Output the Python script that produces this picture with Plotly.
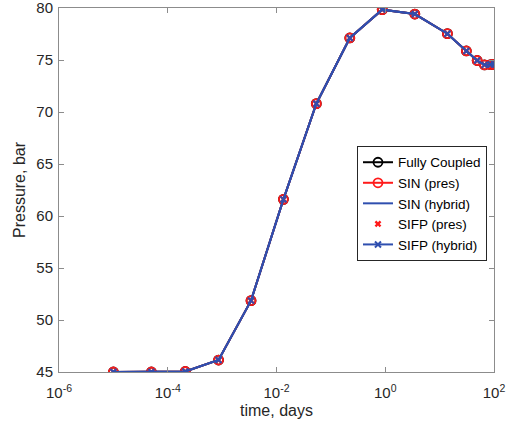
import plotly.graph_objects as go

time_days = [1e-5, 5e-5, 2.1e-4, 8.6e-4, 3.4e-3, 0.0134, 0.054, 0.223, 0.88, 3.5, 13.9, 31, 49, 67, 87, 100]
pressure = [45.0, 45.0, 45.05, 46.15, 51.86, 61.6, 70.8, 77.12, 79.84, 79.42, 77.53, 75.87, 74.95, 74.53, 74.56, 74.58]

series_names = ["Fully Coupled", "SIN (pres)", "SIN (hybrid)", "SIFP (pres)", "SIFP (hybrid)"]
xtick_vals = [1e-6, 1e-4, 1e-2, 1e0, 1e2]
xtick_text = ["10<sup>-6</sup>", "10<sup>-4</sup>", "10<sup>-2</sup>", "10<sup>0</sup>", "10<sup>2</sup>"]
ytick_vals = [45, 50, 55, 60, 65, 70, 75, 80]

BLUE = "#2f4faf"
RED = "#ff1a1a"

fig = go.Figure()
fig.add_trace(go.Scatter(x=time_days, y=pressure, name=series_names[0], mode="lines+markers",
                         line=dict(color="black", width=2),
                         marker=dict(symbol="circle-open", size=9, color="black", line=dict(width=1.8))))
fig.add_trace(go.Scatter(x=time_days, y=pressure, name=series_names[1], mode="lines+markers",
                         line=dict(color=RED, width=2),
                         marker=dict(symbol="circle-open", size=9, color=RED, line=dict(width=1.8))))
fig.add_trace(go.Scatter(x=time_days, y=pressure, name=series_names[2], mode="lines",
                         line=dict(color=BLUE, width=2)))
fig.add_trace(go.Scatter(x=time_days, y=pressure, name=series_names[3], mode="markers",
                         marker=dict(symbol="x", size=6, color=RED, line=dict(width=0))))
fig.add_trace(go.Scatter(x=time_days, y=pressure, name=series_names[4], mode="lines+markers",
                         line=dict(color=BLUE, width=2),
                         marker=dict(symbol="x-thin-open", size=6, color=BLUE, line=dict(width=2, color=BLUE))))

axis_common = dict(showline=True, mirror="ticks", linecolor="#8c8c8c", linewidth=1,
                   ticks="inside", ticklen=5, tickcolor="#8c8c8c", showgrid=False, zeroline=False,
                   automargin=False, ticklabeloverflow="allow",
                   tickfont=dict(family="Liberation Sans, Arial, sans-serif", size=15, color="#262626"))

fig.update_layout(
    width=510, height=430,
    margin=dict(l=59, r=16, t=8, b=58),
    paper_bgcolor="white", plot_bgcolor="white",
    font=dict(family="Liberation Sans, Arial, sans-serif", size=14, color="#262626"),
    xaxis=dict(type="log", range=[-6, 2], tickvals=xtick_vals, ticktext=xtick_text,
               ticklabelstandoff=7,
               title=dict(text="time, days", standoff=4, font=dict(size=16)), **axis_common),
    yaxis=dict(range=[45, 80], tickvals=ytick_vals, ticklabelstandoff=2,
               title=dict(text="Pressure, bar", standoff=6, font=dict(size=16)), **axis_common),
    legend=dict(x=0.685, y=0.621, xanchor="left", yanchor="top", bgcolor="white",
                bordercolor="#262626", borderwidth=1, font=dict(size=13.5, color="black"),
                tracegroupgap=0, itemwidth=30),
    showlegend=True,
)

fig.write_html("out.html")
